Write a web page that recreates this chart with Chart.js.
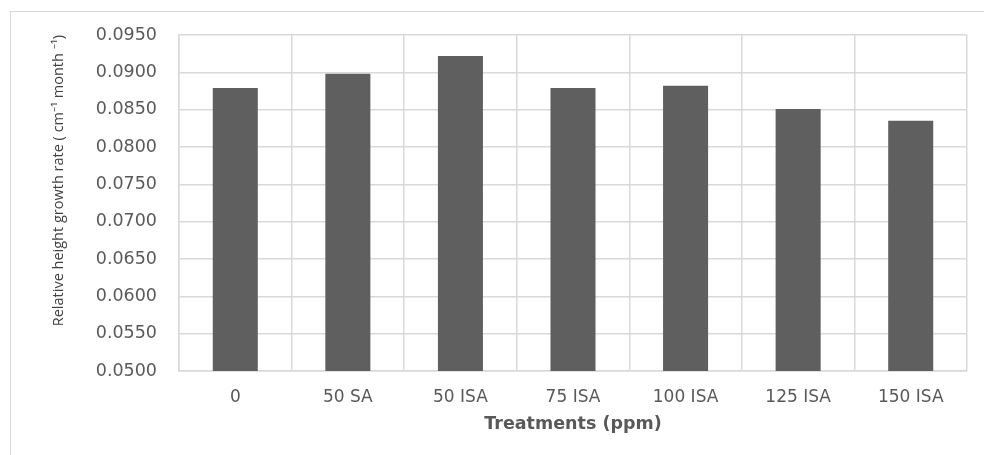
<!DOCTYPE html>
<html>
<head>
<meta charset="utf-8">
<script src="https://cdn.jsdelivr.net/npm/chart.js@4/dist/chart.umd.min.js"></script>
<style>
  html, body { margin: 0; padding: 0; background: #fff; }
  #wrap { position: relative; width: 984px; height: 455px; overflow: hidden; }
  #frame { position: absolute; left: 10px; top: 11px; width: 990px; height: 460px;
           border-left: 1px solid #d9d9d9; border-top: 1px solid #d9d9d9; box-sizing: border-box; }
  #chart { position: absolute; left: 0; top: 0; }
</style>
</head>
<body>
<div id="wrap">
  <div id="frame"></div>
  <canvas id="chart" width="984" height="455"></canvas>
</div>
<script>
const treatments = ["0", "50 SA", "50 ISA", "75 ISA", "100 ISA", "125 ISA", "150 ISA"];
const growthRate = [0.0879, 0.0898, 0.0922, 0.0879, 0.0882, 0.0851, 0.0835];
const yMin = 0.05;
const yMax = 0.095;
const yStep = 0.005;

const barColor = "#5f5f5f";
const gridColor = "#d9d9d9";
const textColor = "#595959";

new Chart(document.getElementById("chart"), {
  type: "bar",
  data: {
    labels: treatments,
    datasets: [{
      data: growthRate,
      backgroundColor: barColor,
      barPercentage: 0.4,
      categoryPercentage: 1
    }]
  },
  options: {
    responsive: false,
    animation: false,
    layout: { padding: { top: 35, right: 17, bottom: 0, left: 0 } },
    plugins: { legend: { display: false }, tooltip: { enabled: false } },
    scales: {
      x: {
        grid: { color: gridColor, lineWidth: 1.5, drawTicks: false },
        border: { color: gridColor, width: 1.5 },
        ticks: { color: textColor, padding: 16, font: { family: "DejaVu Sans", size: 17 } },
        title: {
          display: true,
          text: "Treatments (ppm)",
          color: textColor,
          font: { family: "DejaVu Sans", size: 17.5, weight: "bold" },
          padding: { top: 0, bottom: 20 }
        },
        afterFit: s => { s.height = 84; }
      },
      y: {
        min: yMin,
        max: yMax,
        grid: { color: gridColor, lineWidth: 1.5, drawTicks: false },
        border: { color: gridColor, width: 1.5 },
        ticks: {
          stepSize: yStep,
          color: textColor,
          padding: 22,
          font: { family: "DejaVu Sans", size: 17.5 },
          callback: v => Number(v).toFixed(4)
        },
        title: {
          display: true,
          text: "Relative height growth rate ( cm\u207B\u00B9 month \u207B\u00B9)",
          color: "#404040",
          align: "end",
          font: { family: "Open Sans", size: 14.5 },
          padding: { top: 50, bottom: 0 }
        },
        afterFit: s => { s.width = 179; }
      }
    }
  }
});
</script>
</body>
</html>
